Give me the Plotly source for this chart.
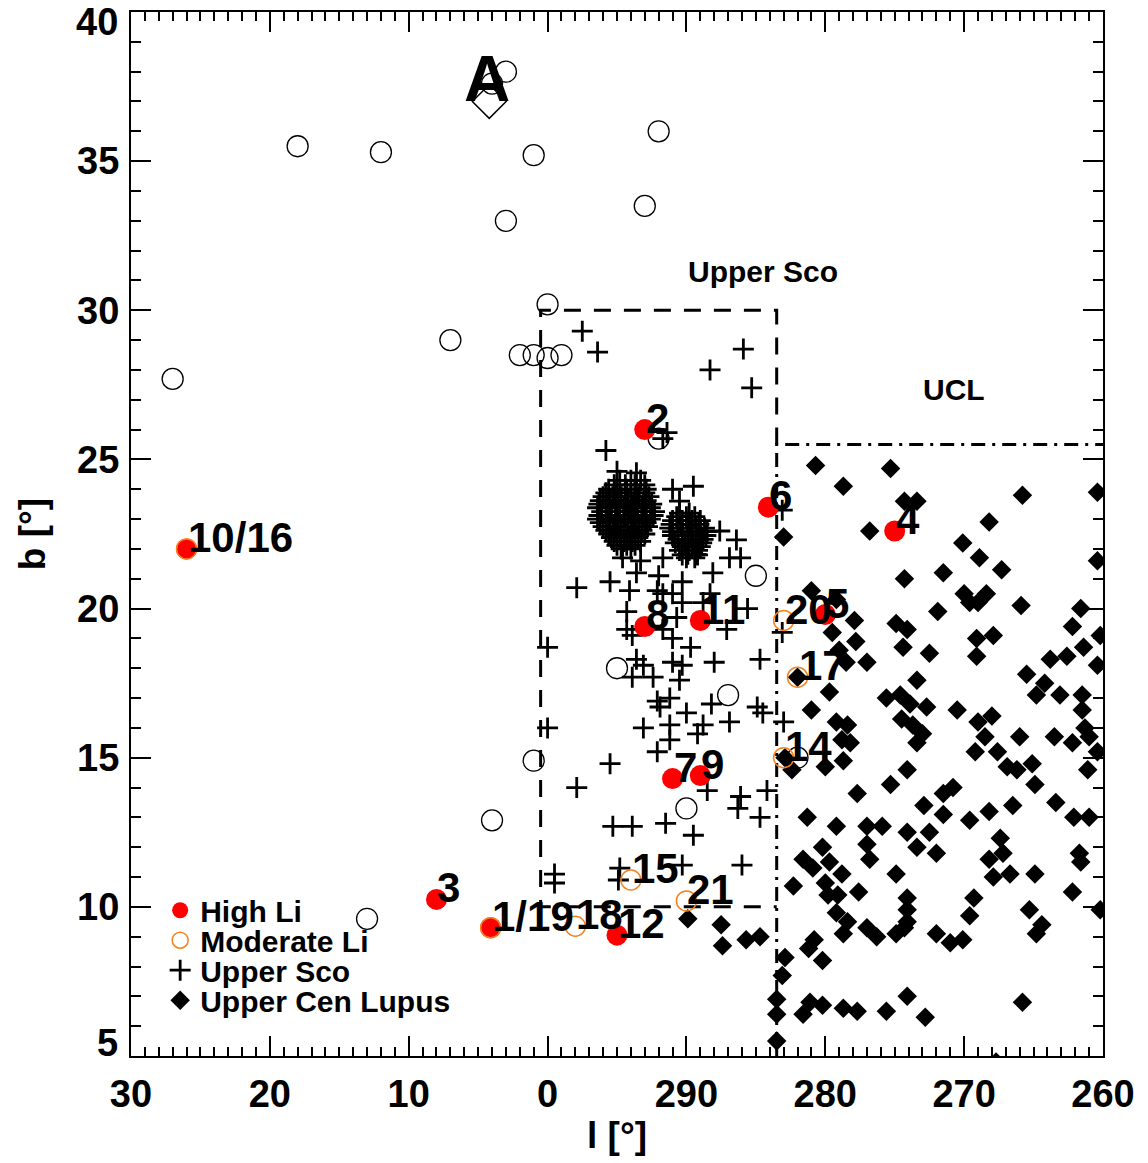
import plotly.graph_objects as go

# ---------------- data (l in degrees as labelled on the axis, b in degrees) ----------------
# open black circles (field stars)
field_l = [27.0, 18.0, 12.0, 7.0, 3.0, 4.0, 1.0, 3.0, 292.0, 293.0, 300.0, 2.0, 1.0, 0.0,
           299.0, 292.0, 285.0, 295.0, 287.0, 1.0, 290.0, 4.0, 13.0, 282.0]
field_b = [27.7, 35.5, 35.3, 29.0, 38.0, 37.6, 35.2, 33.0, 36.0, 33.5, 30.2, 28.5, 28.5, 28.4,
           28.5, 25.7, 21.1, 18.0, 17.1, 14.9, 13.3, 12.9, 9.6, 15.0]

# High Li (red filled)
hi_l = [26.0, 8.0, 4.1, 295.0, 293.0, 284.1, 275.0, 280.0, 293.0, 289.0, 291.0, 289.0]
hi_b = [22.0, 10.25, 9.3, 9.05, 26.0, 23.4, 22.6, 19.8, 19.4, 19.6, 14.3, 14.4]
hi_id = ["10/16", "3", "1/19", "12", "2", "6", "4", "5", "8", "11", "7", "9"]

# Moderate Li (orange open)
mod_l = [26.0, 4.1, 298.0, 294.0, 290.0, 283.0, 282.0, 283.0]
mod_b = [22.0, 9.3, 9.35, 10.9, 10.2, 19.6, 17.7, 15.0]
mod_id = ["", "", "18", "15", "21", "20", "17", "14"]

# Upper Sco members (crosses)
usco_l = [297.5, 296.4, 288.3, 285.9, 285.3, 295.8, 291.4, 291.7, 295.0, 291.0, 289.5, 290.5, 287.6, 286.4, 283.1,
          294.6, 293.3, 291.7, 290.3, 289.2, 286.9, 286.1,
          297.9, 295.5, 294.1, 293.6, 292.0, 290.3, 288.1, 288.3,
          294.3, 292.1, 291.7, 291.0, 290.3, 290.7, 288.8, 285.6,
          294.3, 293.9, 291.7, 291.0, 287.1, 289.7, 300.0,
          293.6, 293.1, 291.0, 290.3, 288.0, 284.7,
          293.9, 292.4, 290.5,
          292.1, 291.9, 291.2, 290.0, 293.1, 291.2, 288.8, 289.2, 288.2, 286.9, 284.9, 284.5, 300.0,
          291.2, 292.1, 295.5, 297.9, 288.5, 286.1, 284.2,
          286.3, 284.7, 295.3, 293.9, 291.5, 289.5,
          299.5, 299.5, 294.8, 294.9, 290.3, 286.0,
          283.1, 283.0,
          # dense group near l~294
          294.8, 294.0, 293.3, 293.6,
          295.6, 295.0, 294.3, 293.6, 292.9,
          296.0, 295.3, 294.7, 294.0, 293.4, 292.7,
          296.3, 295.6, 295.0, 294.4, 293.8, 293.1, 292.5,
          296.1, 295.4, 294.8, 294.1, 293.5, 292.9, 292.3,
          296.4, 295.7, 295.1, 294.5, 293.8, 293.2, 292.6,
          296.0, 295.3, 294.7, 294.0, 293.4, 292.8,
          295.6, 295.0, 294.3, 293.7, 293.0,
          295.2, 294.5, 293.9, 293.3,
          294.7, 294.0,
          295.2, 294.4, 293.7, 293.0,
          295.8, 295.1, 294.4, 293.7, 293.0,
          296.2, 295.5, 294.9, 294.2, 293.6, 292.9,
          296.4, 295.8, 295.1, 294.5, 293.9, 293.2, 292.6,
          296.3, 295.6, 295.0, 294.4, 293.7, 293.0, 292.4,
          296.2, 295.5, 294.9, 294.2, 293.6, 292.9,
          295.8, 295.2, 294.5, 293.9, 293.2,
          295.4, 294.8, 294.1, 293.5,
          295.0, 294.3, 293.7,
          # dense group near l~290
          290.5, 289.8,
          291.0, 290.3, 289.6, 289.0,
          291.2, 290.6, 289.9, 289.3, 288.7,
          291.0, 290.3, 289.7, 289.1, 288.6,
          290.8, 290.1, 289.5, 288.9,
          290.5, 289.8, 289.2,
          290.0, 289.4,
          290.7, 290.0, 289.4,
          291.1, 290.4, 289.7, 289.1,
          291.0, 290.3, 289.6, 289.0, 288.5,
          290.6, 289.9, 289.3, 288.8,
          290.3, 289.6, 289.0,
          289.9, 289.3]
usco_b = [29.3, 28.6, 28.0, 28.7, 27.4, 25.3, 25.9, 25.7, 24.6, 24.0, 24.1, 23.6, 22.6, 22.3, 23.3,
          21.7, 21.6, 21.7, 21.8, 21.8, 21.7, 21.7,
          20.7, 20.9, 20.6, 21.2, 21.1, 20.9, 21.2, 20.5,
          19.9, 20.6, 20.5, 20.5, 20.2, 19.7, 20.2, 20.0,
          19.3, 19.1, 19.3, 19.0, 19.3, 18.7, 18.7,
          18.3, 18.1, 18.2, 18.1, 18.2, 18.3,
          17.7, 17.7, 17.6,
          16.9, 16.7, 17.0, 16.5, 16.0, 16.1, 16.1, 15.8, 16.8, 16.2, 16.7, 16.5, 16.0,
          15.6, 15.2, 14.8, 14.0, 13.9, 13.7, 13.9,
          13.3, 13.0, 12.7, 12.7, 12.8, 12.4,
          11.1, 10.8, 11.3, 10.9, 11.4, 11.4,
          19.2, 16.2,
          24.3, 24.3, 24.3, 24.55,
          24.0, 24.0, 24.0, 24.0, 24.0,
          23.75, 23.75, 23.75, 23.75, 23.75, 23.75,
          23.5, 23.5, 23.5, 23.5, 23.5, 23.5, 23.5,
          23.25, 23.25, 23.25, 23.25, 23.25, 23.25, 23.25,
          23.0, 23.0, 23.0, 23.0, 23.0, 23.0, 23.0,
          22.75, 22.75, 22.75, 22.75, 22.75, 22.75,
          22.5, 22.5, 22.5, 22.5, 22.5,
          22.25, 22.25, 22.25, 22.25,
          22.0, 22.0,
          24.15, 24.15, 24.15, 24.15,
          23.88, 23.88, 23.88, 23.88, 23.88,
          23.62, 23.62, 23.62, 23.62, 23.62, 23.62,
          23.38, 23.38, 23.38, 23.38, 23.38, 23.38, 23.38,
          23.12, 23.12, 23.12, 23.12, 23.12, 23.12, 23.12,
          22.88, 22.88, 22.88, 22.88, 22.88, 22.88,
          22.62, 22.62, 22.62, 22.62, 22.62,
          22.38, 22.38, 22.38, 22.38,
          22.12, 22.12, 22.12,
          23.2, 23.2,
          22.95, 22.95, 22.95, 22.95,
          22.7, 22.7, 22.7, 22.7, 22.7,
          22.45, 22.45, 22.45, 22.45, 22.45,
          22.2, 22.2, 22.2, 22.2,
          21.95, 21.95, 21.95,
          21.7, 21.7,
          23.08, 23.08, 23.08,
          22.82, 22.82, 22.82, 22.82,
          22.58, 22.58, 22.58, 22.58, 22.58,
          22.32, 22.32, 22.32, 22.32,
          22.08, 22.08, 22.08,
          21.82, 21.82]

# Upper Centaurus Lupus members (filled diamonds)
ucl_l = [280.7, 275.3, 278.7, 274.3, 273.4, 276.8, 283.0, 268.2, 270.1, 268.9, 271.5, 274.3, 270.0, 269.6,
         268.4, 269.0, 271.9, 281.0, 279.2, 277.9, 279.5, 274.9, 274.1, 277.8, 274.4, 272.5, 279.0, 278.5,
         277.0, 269.1, 267.9, 269.1, 282.0, 273.4, 279.7, 275.6, 274.6,
         265.8, 260.4, 267.3, 260.4, 265.9, 261.6, 262.2, 260.2, 261.4, 263.8, 262.6, 260.4, 265.5, 264.2,
         264.8, 263.1, 261.5,
         281.0, 279.2, 278.4, 278.8, 278.2, 280.0, 278.7, 282.9, 282.4, 273.9, 272.7, 274.5, 273.7, 273.0,
         273.4, 270.5, 269.0, 268.0, 268.5, 269.2, 267.6, 274.1, 275.3, 277.7, 270.8, 271.5, 272.9, 271.5,
         269.6, 268.2, 281.3, 279.2, 277.0, 275.9, 274.1, 272.5, 280.2, 277.0, 276.8, 273.4, 272.0, 281.6,
         280.9, 279.7, 278.8, 274.9, 268.2, 267.9, 282.3, 280.0, 279.8, 279.1, 277.6, 274.1, 269.3, 279.2,
         278.4, 274.1, 274.1, 269.6, 278.7, 277.0, 276.3, 274.9, 274.3, 272.0, 271.0, 270.1, 280.8, 281.2,
         280.2, 282.9, 283.1, 283.5, 283.5, 281.1, 280.2, 281.6, 278.7, 277.7, 275.6, 274.1, 272.8, 283.5,
         261.5, 266.0, 263.5, 262.2, 261.3, 261.0, 260.4, 266.9, 266.2, 265.1, 261.1, 264.9, 266.5, 263.4,
         262.1, 261.0, 267.4, 267.2, 266.7, 264.9, 261.7, 261.6, 262.2, 265.3, 264.4, 264.8, 260.2, 265.8,
         289.9, 287.5, 287.4, 285.7, 284.7, 267.7]
ucl_b = [24.8, 24.7, 24.1, 23.6, 23.6, 22.6, 22.4, 22.9, 22.2, 21.7, 21.2, 21.0, 20.5, 20.2,
         20.5, 20.2, 19.9, 20.6, 20.3, 19.6, 19.2, 19.5, 19.3, 18.9, 18.7, 18.5, 18.6, 18.2,
         18.2, 19.0, 19.1, 18.4, 17.7, 17.6, 17.2, 17.0, 17.1,
         23.8, 23.9, 21.3, 21.6, 20.1, 20.0, 19.4, 19.1, 18.7, 18.3, 18.4, 18.1, 17.8, 17.5,
         17.1, 17.1, 17.1,
         16.6, 16.2, 16.1, 15.6, 15.5, 14.7, 14.9, 15.0, 14.6, 16.8, 16.7, 16.3, 16.1, 15.8,
         15.5, 16.6, 16.2, 16.4, 15.7, 15.2, 15.2, 14.6, 14.1, 13.8, 14.0, 13.8, 13.4, 13.1,
         12.9, 13.2, 13.0, 12.7, 12.7, 12.7, 12.5, 12.5, 12.0, 12.1, 11.6, 12.0, 11.8, 11.6,
         11.3, 11.5, 11.1, 11.1, 11.6, 11.0, 10.7, 10.8, 10.4, 10.4, 10.5, 10.3, 10.3, 9.8,
         9.5, 9.9, 9.5, 9.7, 9.1, 9.3, 9.0, 9.1, 9.3, 9.1, 8.8, 8.9, 8.9, 8.6,
         8.2, 8.3, 7.7, 6.9, 6.4, 6.8, 6.7, 6.4, 6.6, 6.5, 6.5, 7.0, 6.3, 5.5,
         16.6, 15.7, 15.7, 15.5, 16.0, 15.7, 15.2, 14.7, 14.6, 14.8, 14.6, 14.1, 13.4, 13.5,
         13.0, 13.0, 12.3, 11.8, 11.1, 11.1, 11.8, 11.5, 10.5, 9.9, 9.4, 9.1, 9.9, 6.8,
         9.6, 9.4, 8.7, 8.9, 9.0, 4.8]

# star "A"
star_a_l = [4.2]
star_a_b = [37.0]

# region boundaries
usco_box_l = [283.5, 283.5, 0.5, 0.5, 283.5]
usco_box_b = [25.5, 30.0, 30.0, 10.0, 10.0]
ucl_box_l = [283.5, 283.5, 260.0]
ucl_box_b = [5.0, 25.5, 25.5]

x_tick_vals = [30, 20, 10, 0, 290, 280, 270, 260]
x_tick_text = ["30", "20", "10", "0", "290", "280", "270", "260"]
y_tick_vals = [5, 10, 15, 20, 25, 30, 35, 40]


def xpos(vals):
    """Map labelled longitude onto the continuous plot coordinate (0 == 300 on this axis)."""
    return [v - 300 if v > 180 else v for v in vals]


FONT = "Liberation Sans, Arial, Helvetica, sans-serif"
fig = go.Figure()

# boundaries
fig.add_trace(go.Scatter(x=xpos(usco_box_l), y=usco_box_b, mode="lines",
                         line=dict(color="black", width=3, dash="17px,13px"),
                         showlegend=False, hoverinfo="skip"))
fig.add_trace(go.Scatter(x=xpos(ucl_box_l), y=ucl_box_b, mode="lines",
                         line=dict(color="black", width=3, dash="14px,7px,3px,7px"),
                         showlegend=False, hoverinfo="skip"))

fig.add_trace(go.Scatter(x=xpos(field_l), y=field_b, mode="markers", showlegend=False,
                         marker=dict(symbol="circle-open", size=21, color="black",
                                     line=dict(width=1.3, color="black"))))
fig.add_trace(go.Scatter(x=xpos(star_a_l), y=star_a_b, mode="markers", showlegend=False,
                         marker=dict(symbol="diamond-open", size=26, color="black",
                                     line=dict(width=1.5, color="black"))))
fig.add_trace(go.Scatter(x=xpos(usco_l), y=usco_b, mode="markers", name="Upper Sco", legend="legend3",
                         marker=dict(symbol="cross-thin", size=15, color="black",
                                     line=dict(width=2.8, color="black"))))
fig.add_trace(go.Scatter(x=xpos(ucl_l), y=ucl_b, mode="markers", name="Upper Cen Lupus", legend="legend4",
                         marker=dict(symbol="diamond", size=15, color="black",
                                     line=dict(width=0))))
fig.add_trace(go.Scatter(x=xpos(hi_l), y=hi_b, mode="markers", name="High Li", legend="legend",
                         marker=dict(symbol="circle", size=21, color="#ff0000",
                                     line=dict(width=0))))
fig.add_trace(go.Scatter(x=xpos(mod_l), y=mod_b, mode="markers", name="Moderate Li", legend="legend2",
                         marker=dict(symbol="circle-open", size=20, color="#f5821f",
                                     line=dict(width=1.5, color="#f5821f"))))

annotations = []
for txt, lx, by in list(zip(hi_id, hi_l, hi_b)) + list(zip(mod_id, mod_l, mod_b)):
    if not txt:
        continue
    annotations.append(dict(x=xpos([lx])[0], y=by, xref="x", yref="y", text=txt, showarrow=False,
                            xanchor="left", yanchor="bottom", yshift=-14, xshift=-1,
                            font=dict(family=FONT, size=42, color="black", weight="bold")))
annotations.append(dict(x=xpos(star_a_l)[0], y=star_a_b[0], xref="x", yref="y", text="A",
                        showarrow=False, xanchor="center", yanchor="middle", xshift=-2, yshift=22,
                        font=dict(family=FONT, size=64, color="black", weight="bold")))
annotations.append(dict(x=xpos([284.5])[0], y=31.3, xref="x", yref="y", text="Upper Sco",
                        showarrow=False, xanchor="center", yanchor="middle",
                        font=dict(family=FONT, size=30, color="black", weight="bold")))
annotations.append(dict(x=xpos([270.7])[0], y=27.35, xref="x", yref="y", text="UCL",
                        showarrow=False, xanchor="center", yanchor="middle",
                        font=dict(family=FONT, size=30, color="black", weight="bold")))
# end labels of the b axis (drawn inset, like the original)
annotations.append(dict(x=-0.011, y=0.0125, xref="paper", yref="paper", text="5", showarrow=False,
                        xanchor="right", yanchor="middle",
                        font=dict(family=FONT, size=38, color="black", weight="bold")))
annotations.append(dict(x=-0.011, y=0.9905, xref="paper", yref="paper", text="40", showarrow=False,
                        xanchor="right", yanchor="middle",
                        font=dict(family=FONT, size=38, color="black", weight="bold")))

axis_common = dict(showgrid=False, zeroline=False, showline=True, linecolor="black", linewidth=2,
                   mirror="allticks", ticks="inside", ticklen=20, tickwidth=2, tickcolor="black",
                   tickfont=dict(family=FONT, size=38, color="black", weight="bold"))

legend_font = dict(family=FONT, size=30, color="black", weight="bold")


def legend_at(ypaper):
    return dict(x=0.03, y=ypaper, xanchor="left", yanchor="middle", bgcolor="rgba(0,0,0,0)",
                font=legend_font, itemwidth=30)


fig.update_layout(
    width=1148, height=1163,
    margin=dict(l=131, r=45, t=10, b=107),
    paper_bgcolor="white", plot_bgcolor="white",
    xaxis=dict(range=[30, -40], tickmode="array", tickvals=xpos(x_tick_vals), ticktext=x_tick_text,
               minor=dict(tickmode="linear", tick0=0, dtick=1, ticks="inside", ticklen=9,
                          tickwidth=1.5, tickcolor="black"),
               ticklabelstandoff=3,
               title=dict(text="l [°]", standoff=9,
                          font=dict(family=FONT, size=37, color="black", weight="bold")),
               **axis_common),
    yaxis=dict(range=[5, 40], tickmode="array", tickvals=y_tick_vals,
               ticktext=["", "10", "15", "20", "25", "30", "35", ""],
               minor=dict(tickmode="linear", tick0=0, dtick=1, ticks="inside", ticklen=10,
                          tickwidth=1.5, tickcolor="black"),
               ticklabelstandoff=2,
               title=dict(text="b [°]", standoff=20,
                          font=dict(family=FONT, size=37, color="black", weight="bold")),
               **axis_common),
    legend=legend_at(0.1396),
    legend2=legend_at(0.1109),
    legend3=legend_at(0.0822),
    legend4=legend_at(0.0535),
    annotations=annotations,
    showlegend=True,
)

fig.write_html("out.html")
